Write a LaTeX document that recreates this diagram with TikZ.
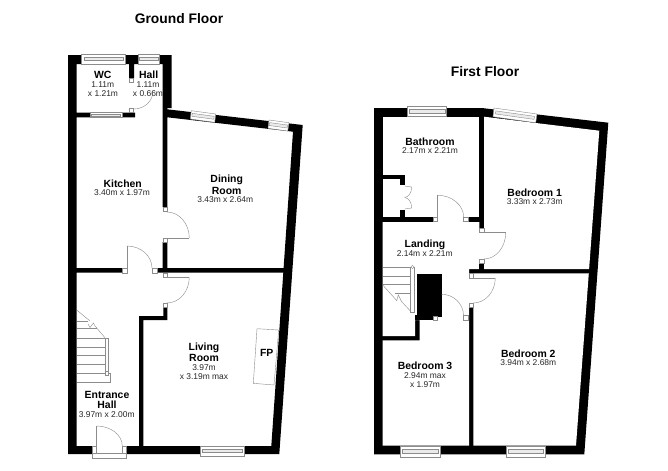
\documentclass[tikz,border=0pt]{standalone}
\usepackage{fontspec}
\setmainfont{Liberation Sans}
\usetikzlibrary{calc}
\tikzset{
  wall/.style={fill=black,draw=none},
  fitting/.style={draw=black!45,line width=.35pt},
  roomname/.style={font=\fontsize{8.9}{10}\selectfont\bfseries,inner sep=0pt},
  roomsize/.style={font=\fontsize{7.2}{8}\selectfont,inner sep=0pt,text=black!85},
  title/.style={font=\fontsize{11.8}{13}\selectfont\bfseries,inner sep=0pt},
}
\newcommand{\pane}[4]{
\draw[fitting,fill=white] (#1) -- (#2) -- (#3) -- (#4) -- cycle;
\draw[fitting,fill=black!8] ($(#1)!.3!(#4)!.05!($(#2)!.3!(#3)$)$) -- ($(#2)!.3!(#3)!.05!($(#1)!.3!(#4)$)$)
  -- ($(#2)!.65!(#3)!.05!($(#1)!.65!(#4)$)$) -- ($(#1)!.65!(#4)!.05!($(#2)!.65!(#3)$)$) -- cycle;
}
\newcommand{\swing}[3]{
\draw[fitting] (#1) .. controls ($(#1)!.55!(#2)$) and ($(#3)!.55!(#2)$) .. (#3);
}
\begin{document}
\begin{tikzpicture}[x=.03cm,y=-.03cm]
\useasboundingbox (0,0) rectangle (668,470);
\fill[white] (0,0) rectangle (668,470);
% ground floor walls
\fill[wall] (68,55) -- (171.7,55) -- (171.7,108) -- (167.3,108) -- (167.3,207) -- (162.7,207)
  -- (162.7,64) -- (134,64) -- (134,78) -- (129,78) -- (129,64) -- (76.7,64) -- (76.7,112.7)
  -- (135,112.7) -- (135,117.3) -- (76.7,117.3) -- (76.7,268) -- (122.7,268) -- (122.7,272.7) -- (76.7,272.7)
  -- (76.7,446) -- (139,446) -- (139,316) -- (163.3,316) -- (163.3,308) -- (167.3,308) -- (167.3,320)
  -- (143.3,320) -- (143.3,446) -- (271.3,446) -- (283.3,272.7) -- (157.3,272.7) -- (157.3,268) -- (162.7,268)
  -- (162.7,242) -- (167.3,242) -- (167.3,268) -- (283.6,268) -- (293,131.7) -- (167.3,117.3) -- (167.3,109.3)
  -- (302.7,125) -- (279.3,454) -- (68,454) -- cycle;
\fill[white] (92.7,446) rectangle (126.7,455);
% ground floor windows
\pane{81.7,54}{125.3,54}{125.3,64}{81.7,64}
\pane{138,54}{159,54}{159,64}{138,64}
\pane{90,112.7}{122,112.7}{122,117.5}{90,117.5}
\pane{191.3,110.7}{215.7,114}{214.7,122.3}{190.3,119}
\pane{269,120}{289,122.7}{287.7,131}{268,128.3}
\pane{200,446}{244,446}{244,456}{200,456}
% ground floor jambs
\foreach \jx/\jy in {129/78,129/108,163/207,163/238,163/273,163/303}
  \draw[fitting,fill=white] (\jx,\jy) rectangle ++(4.4,4.4);
\foreach \jx/\jy in {122.7/268,152.3/268}
  \draw[fitting,fill=white] (\jx,\jy) rectangle ++(4.6,4.7);
\draw[fitting,fill=white] (92.7,446) rectangle (96.7,453);
\draw[fitting,fill=white] (122.3,446) rectangle (126.7,453);
\draw[fitting,fill=white] (92.3,453) rectangle (126.7,458.5);
% ground floor doors
\swing{134,109}{153,109}{153,91}
\draw[fitting] (127,268) -- (127,246);
\swing{127,246}{152,246}{152,268}
\draw[fitting] (167,238) -- (189.3,238);
\swing{189.3,238}{189.3,212}{167,212}
\draw[fitting] (167,277.3) -- (189.3,277.3);
\swing{189.3,277.3}{189.3,303}{167,303}
\draw[fitting] (96.7,446) -- (96.7,426);
\swing{96.7,426}{122.3,426}{122.3,446}
% ground floor stairs
\foreach \sy in {337.7,346.7,355,364,372.7}
  \draw[fitting] (76.7,\sy) -- (105,\sy);
\draw[fitting] (76.7,320.7) -- (88,320.7);
\draw[fitting] (76.7,328.3) -- (97,328.3);
\draw[fitting] (76.7,310) -- (90,321);
\draw[fitting] (95,326) -- (105,337.7);
\draw[fitting] (88,324) -- (90,327.5) -- (93.5,323) -- (95,326);
\draw[fitting] (105,337.7) rectangle (108.3,372.7);
\draw[fitting,fill=white] (105,371) rectangle (108.3,375);
\draw[fitting] (108.3,372.7) -- (110,372.7) -- (110,381.7) -- (76.7,381.7);
% fireplace
\draw[fitting,fill=white] (257,328.7) -- (278.7,330) -- (274,385) -- (253.3,383.3) -- cycle;
% ground floor labels
\draw (179,19) node[title]{Ground Floor};
\draw (102.7,75) node[roomname]{WC};
\draw (102.7,85) node[roomsize]{1.11m};
\draw (103,94) node[roomsize]{x 1.21m};
\draw (148.7,75) node[roomname]{Hall};
\draw (148,85) node[roomsize]{1.11m};
\draw (148,94) node[roomsize]{x 0.66m};
\draw (122.7,183.7) node[roomname]{Kitchen};
\draw (122,192.7) node[roomsize]{3.40m x 1.97m};
\draw (226.7,180) node[roomname]{Dining};
\draw (226.7,191) node[roomname]{Room};
\draw (225.3,200) node[roomsize]{3.43m x 2.64m};
\draw (204,347.7) node[roomname]{Living};
\draw (204,358) node[roomname]{Room};
\draw (204,368) node[roomsize]{3.97m};
\draw (204,376.7) node[roomsize]{x 3.19m max};
\draw (266.7,353) node[roomname]{FP};
\draw (107,394.7) node[roomname]{Entrance};
\draw (107,405) node[roomname]{Hall};
\draw (106.7,414.3) node[roomsize]{3.97m x 2.00m};
% first floor walls
\fill[wall] (374,108) -- (481.7,108) -- (608.3,122.7) -- (584.3,454.3) -- (374,454.3) -- cycle;
\fill[white] (382.7,116.7) -- (479.3,116.7) -- (479.3,217.3) -- (382.7,217.3) -- cycle;
\fill[white] (484,116.7) -- (599.3,130.7) -- (589.1,269) -- (484,269) -- (484,263) -- (479,263) -- (479,233) -- (484,233) -- cycle;
\fill[white] (382.7,222) -- (479.3,222) -- (479.3,269) -- (469,269) -- (469,445.7) -- (382.7,445.7) -- (382.7,340.3)
  -- (419.7,340.3) -- (419.7,320) -- (415,320) -- (415,336) -- (382.7,336) -- cycle;
\fill[white] (473.3,273.3) -- (588.8,273.3) -- (576,445.7) -- (473.3,445.7) -- (473.3,303) -- (468.5,303) -- (468.5,278) -- (473.3,278) -- cycle;
\fill[white] (433.3,217) rectangle (468,222.5);
\fill[wall] (479.3,263) rectangle (484,269);
% landing stack and fittings
\fill[wall] (417.3,274) rectangle (441.7,317);
\fill[wall] (415,315) rectangle (433.3,320);
\fill[wall] (382.7,174.7) rectangle (404.7,179.3);
\fill[wall] (400,174.7) rectangle (404.7,185.3);
\fill[wall] (400,210) rectangle (404.7,217.3);
% first floor windows
\pane{407.7,106.7}{446.7,106.7}{446.7,116.7}{407.7,116.7}
\pane{494,108}{537,114}{535.7,122.7}{493,116.7}
\pane{400.7,446}{440,446}{440,456.7}{400.7,456.7}
\pane{506.3,446}{545.3,446}{545.3,456.7}{506.3,456.7}
% first floor jambs
\foreach \jx/\jy in {433.3/217.3,463.7/217.3,479.3/228,479.3/259,469/273.3,469/303,463.5/315.5,433.3/316}
  \draw[fitting,fill=white] (\jx,\jy) rectangle ++(4.4,4.4);
% first floor doors
\draw[fitting] (437.7,217.3) -- (437.7,195.3);
\swing{437.7,195.3}{463.7,195.3}{463.7,217.3}
\draw[fitting] (484,232.7) -- (505.7,232.7);
\swing{505.7,232.7}{505.7,259}{484,259}
\draw[fitting] (473.3,278) -- (495.3,278);
\swing{495.3,278}{495.3,303}{473.3,303}
\swing{441.7,294.3}{463.5,294.3}{463.5,315.5}
\draw[fitting] (404.7,186) -- (411.7,187);
\swing{411.7,187}{411.7,197}{404.7,197.5}
\draw[fitting] (404.7,209) -- (411.7,208);
\swing{411.7,208}{411.7,198}{404.7,197.5}
% first floor stairs
\foreach \sy in {266.7,275.7,284.3}
  \draw[fitting] (382.7,\sy) -- (410.7,\sy);
\draw[fitting] (395,293.3) -- (410.7,293.3);
\draw[fitting] (410.7,266.7) rectangle (414.3,311.7);
\draw[fitting,fill=white] (412.5,267) circle (1.7);
\draw[fitting] (382.7,285) -- (393.3,296.7) -- (396.7,300.7) -- (398.3,295) -- (401.7,301.7) -- (411,311.7);
% first floor labels
\draw (485,72) node[title]{First Floor};
\draw (430,141.7) node[roomname]{Bathroom};
\draw (430,150.7) node[roomsize]{2.17m x 2.21m};
\draw (534.7,192.3) node[roomname]{Bedroom 1};
\draw (534.7,202) node[roomsize]{3.33m x 2.73m};
\draw (425,245) node[roomname]{Landing};
\draw (424.7,254) node[roomsize]{2.14m x 2.21m};
\draw (425,366) node[roomname]{Bedroom 3};
\draw (425,376) node[roomsize]{2.94m max};
\draw (425,384.7) node[roomsize]{x 1.97m};
\draw (528.3,353.3) node[roomname]{Bedroom 2};
\draw (528.3,362.7) node[roomsize]{3.94m x 2.68m};
\end{tikzpicture}
\end{document}
